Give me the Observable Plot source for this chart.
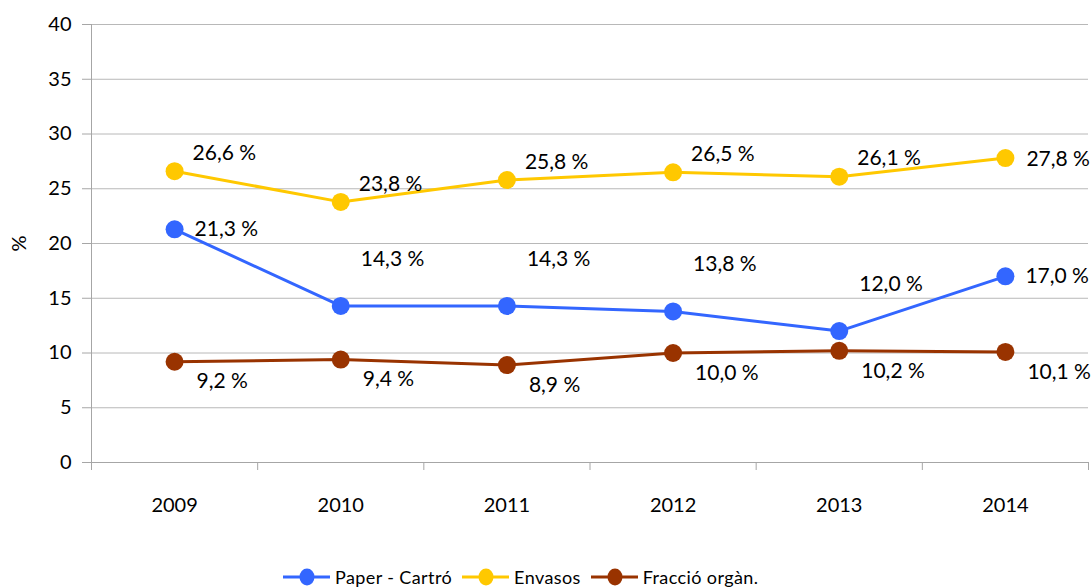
<!DOCTYPE html>
<html><head><meta charset="utf-8">
<script src="https://cdn.jsdelivr.net/npm/d3@7"></script>
<script src="https://cdn.jsdelivr.net/npm/@observablehq/plot@0.6"></script>
<style>
body{margin:0;background:#fff;font-family:Lato,"Open Sans",sans-serif;}
#legend{display:flex;align-items:center;height:24px;padding-top:2px;padding-left:283px;font-size:18px;letter-spacing:0.4px;color:#000;}
.item{display:flex;align-items:center;margin-right:10px;}
.item svg{margin-right:5px;}
</style></head><body>
<div id="chart"></div>
<div id="legend"></div>
<script>
const years = [2009, 2010, 2011, 2012, 2013, 2014];
const paper = [21.3, 14.3, 14.3, 13.8, 12.0, 17.0];
const envasos = [26.6, 23.8, 25.8, 26.5, 26.1, 27.8];
const organica = [9.2, 9.4, 8.9, 10.0, 10.2, 10.1];
const seriesNames = ["Paper - Cartró", "Envasos", "Fracció orgàn."];
const seriesColors = ["#3366ff", "#ffc800", "#993300"];
const yTicks = [0, 5, 10, 15, 20, 25, 30, 35, 40];

const seriesValues = [paper, envasos, organica];
const rows = [];
seriesNames.forEach((name, si) => {
  seriesValues[si].forEach((v, i) => rows.push({series: name, year: years[i], value: v, idx: i}));
});
const fmt = v => v.toFixed(1).replace(".", ",") + " %";
const last = years.length - 1;

// label placement rules per series
const envLabels = rows.filter(d => d.series === "Envasos");
const envMid = envLabels.filter(d => d.idx !== last);
const envEnd = envLabels.filter(d => d.idx === last);
const papLabels = rows.filter(d => d.series === "Paper - Cartró");
const papEnds = papLabels.filter(d => d.idx === 0 || d.idx === last);
const papMid = papLabels.filter(d => d.idx !== 0 && d.idx !== last);
const orgLabels = rows.filter(d => d.series === "Fracció orgàn.");

const boundaries = d3.range(years[0] - 0.5, years[last] + 1, 1);
const gray = "#a6a6a6";
const txt = {x: "year", y: "value", text: d => fmt(d.value), textAnchor: "start", fontSize: 21, fill: "#000"};

const chart = Plot.plot({
  width: 1092,
  height: 563,
  marginLeft: 91,
  marginRight: 4,
  marginTop: 24,
  marginBottom: 101,
  style: {fontFamily: "Lato, 'Open Sans', sans-serif", background: "#fff"},
  x: {domain: [years[0] - 0.5, years[last] + 0.5]},
  y: {domain: [0, 40]},
  color: {domain: seriesNames, range: seriesColors},
  marks: [
    Plot.ruleY(yTicks.filter(t => t > 0), {stroke: "#b8b8b8", strokeWidth: 1}),
    Plot.ruleY([0], {stroke: gray, strokeWidth: 1}),
    Plot.ruleX([years[0] - 0.5], {stroke: gray, strokeWidth: 1}),
    Plot.axisY({ticks: yTicks, tickSize: 9, tickPadding: 11, stroke: gray, color: "#000", fontSize: 20,
      label: "%", labelAnchor: "center", labelArrow: "none", labelOffset: 80}),
    Plot.axisX({ticks: boundaries, tickSize: 8, stroke: gray, tickFormat: () => "", label: null}),
    Plot.axisX({ticks: years, tickSize: 0, tickPadding: 35, tickFormat: d => String(d), color: "#000", fontSize: 20, label: null}),
    Plot.line(rows, {x: "year", y: "value", z: "series", stroke: "series", strokeWidth: 3}),
    Plot.dot(rows, {x: "year", y: "value", fill: "series", r: 9}),
    Plot.text(envMid, {...txt, dx: 18, dy: -18}),
    Plot.text(envEnd, {...txt, dx: 21, dy: 1}),
    Plot.text(papEnds, {...txt, dx: 20, dy: 0}),
    Plot.text(papMid, {...txt, dx: 20, dy: -47}),
    Plot.text(orgLabels, {...txt, dx: 22, dy: 20})
  ]
});
document.getElementById("chart").appendChild(chart);

const legend = document.getElementById("legend");
seriesNames.forEach((name, i) => {
  const item = document.createElement("div");
  item.className = "item";
  item.innerHTML = `<svg width="47" height="20"><line x1="0" y1="10" x2="47" y2="10" stroke="${seriesColors[i]}" stroke-width="3"/><ellipse cx="24" cy="10" rx="7.5" ry="8.5" fill="${seriesColors[i]}"/></svg><span>${name}</span>`;
  legend.appendChild(item);
});
</script>
</body></html>
